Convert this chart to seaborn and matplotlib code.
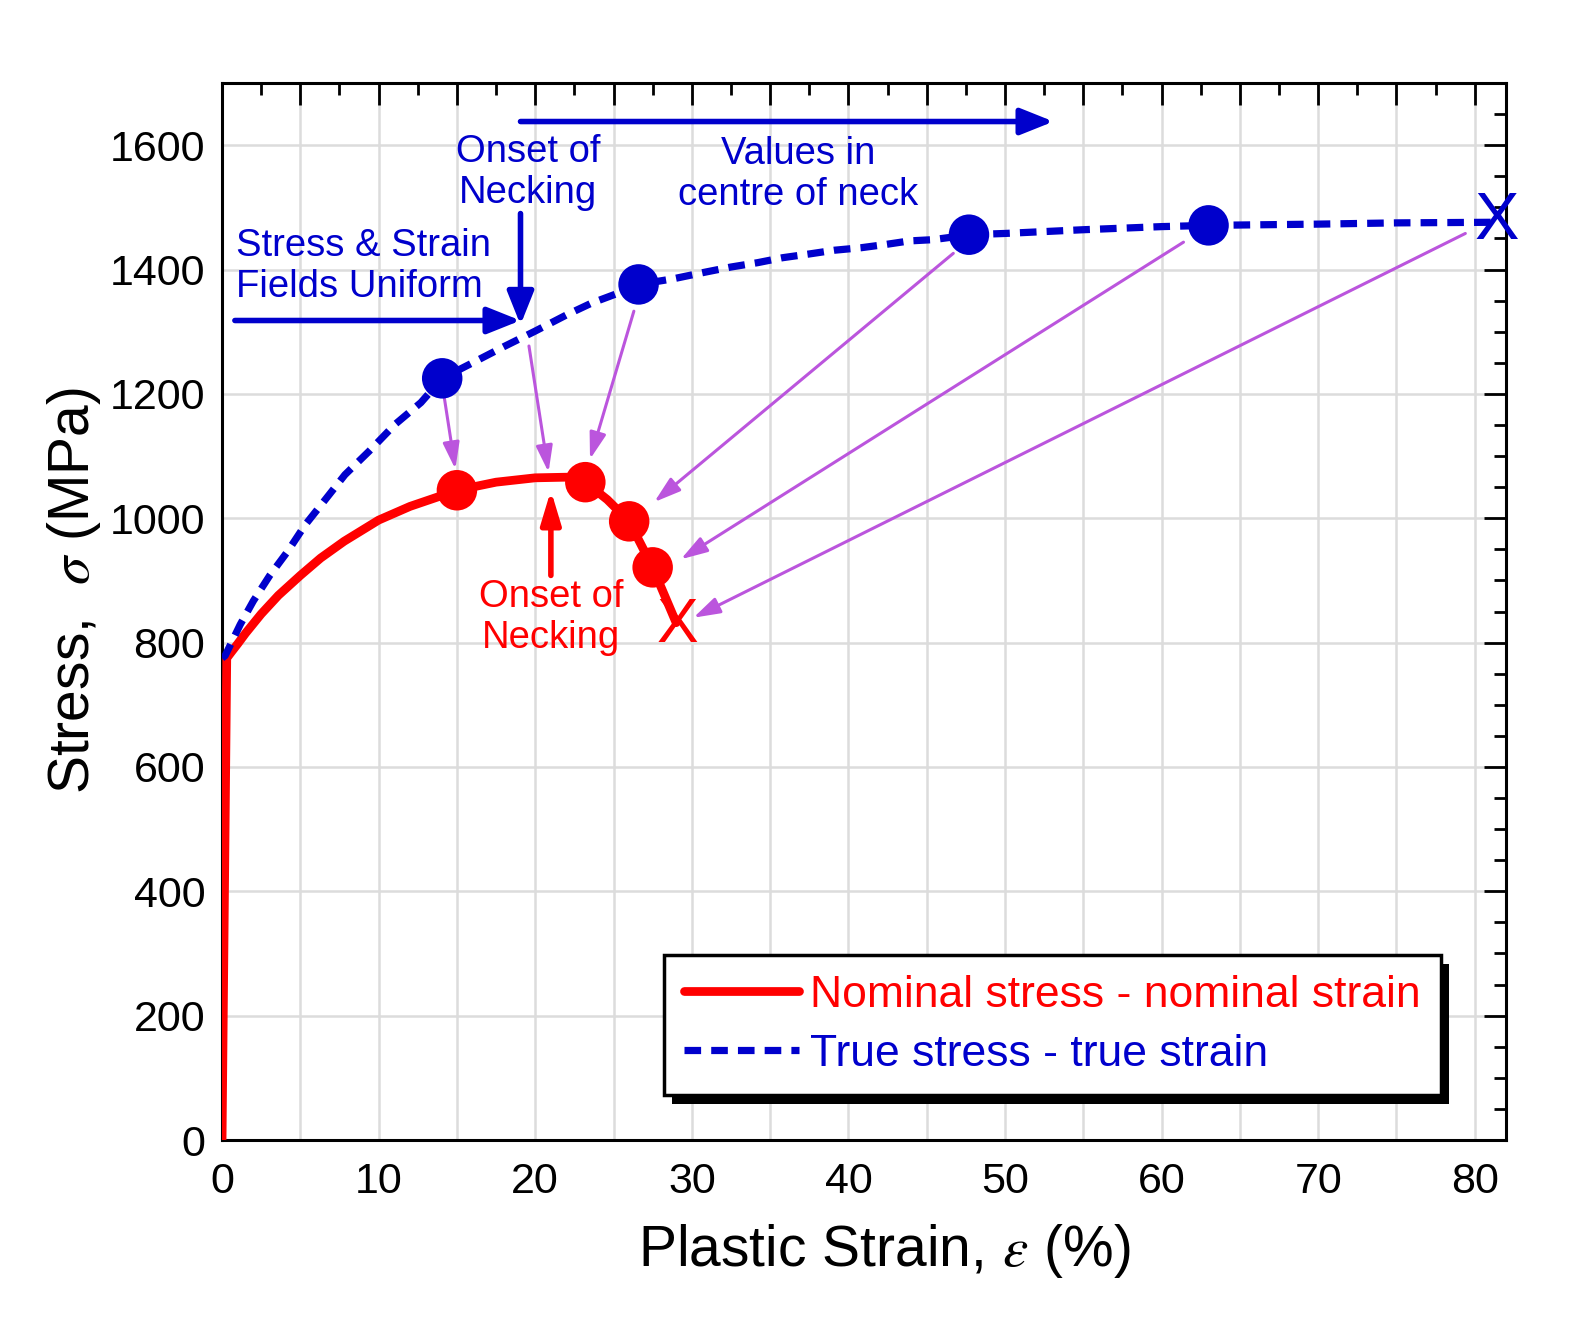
import numpy as np
import matplotlib
matplotlib.use("Agg")
import matplotlib.pyplot as plt
from matplotlib.lines import Line2D
from matplotlib.patches import Rectangle
from matplotlib.ticker import MultipleLocator, FuncFormatter
from matplotlib.transforms import IdentityTransform
import seaborn as sns

# nominal stress - nominal strain curve
nominal_strain = [0, 0.3, 0.6, 1.0, 1.5, 2.5, 3.6, 5, 6.3, 7.8, 10, 12, 14.1, 15, 17.5, 20, 22, 23.2,
                  24.6, 26.0, 27.5, 29.0]
nominal_stress = [0, 775, 785, 798, 815, 846, 876, 908, 936, 963, 997, 1019, 1037, 1045, 1058, 1065, 1066, 1058,
                  1030, 995, 921, 832]

# true stress - true strain curve
true_strain = [0, 0.2, 1.16, 2, 3.05, 4.2, 5.3, 6.5, 7.85, 9.4, 11.05, 12.7, 14.06, 16, 18, 20, 22, 23.6,
               25.3, 26.6, 28.8, 30.9, 32.5, 34.2, 35.8, 37.5, 39.1, 40.8, 42.3, 43.9, 45.4, 47.8,
               50, 55, 60, 63, 70, 75, 81.3]
true_stress = [775, 779, 829, 867, 908, 947, 989, 1027, 1070, 1108, 1151, 1186, 1225, 1250, 1276, 1301, 1327, 1346,
               1362, 1376, 1385, 1396, 1404, 1411, 1419, 1425, 1431, 1435, 1440, 1446, 1448, 1456,
               1458, 1464, 1469, 1471, 1473, 1475, 1476]

# highlighted points
nom_pts_x = [15.0, 23.2, 26.0, 27.5]
nom_pts_y = [1045, 1058, 995, 921]
true_pts_x = [14.06, 26.6, 47.7, 63.0]
true_pts_y = [1225, 1376, 1456, 1471]

# fracture points
nom_fracture = (29.1, 828)
true_fracture = (81.4, 1476)

# purple correspondence arrows: (start, end)
link_start = [(14.2, 1193), (19.6, 1277), (26.3, 1333), (46.7, 1426), (61.4, 1444), (79.4, 1458)]
link_end = [(14.9, 1079), (20.85, 1074), (23.5, 1095), (27.6, 1026), (29.3, 934), (30.1, 840)]

RED = "#ff0000"
BLUE = "#0000cc"
PURPLE = "#bb55dd"

sns.set_style("white")
plt.rcParams["font.family"] = ["Liberation Sans", "DejaVu Sans"]
plt.rcParams["mathtext.fontset"] = "stix"
for k in ["text.color", "axes.labelcolor", "xtick.color", "ytick.color"]:
    plt.rcParams[k] = "black"

fig = plt.figure(figsize=(15.86, 13.34), dpi=100)
ax = fig.add_axes([0.14, 0.1454, 0.8096, 0.7924])

sns.lineplot(x=nominal_strain, y=nominal_stress, ax=ax, color=RED, lw=6.3,
             sort=False, estimator=None, zorder=3)
sns.lineplot(x=true_strain, y=true_stress, ax=ax, color=BLUE, lw=5.2,
             ls=(0, (2.3, 1.4)), sort=False, estimator=None, zorder=3)
sns.scatterplot(x=nom_pts_x, y=nom_pts_y, ax=ax, color=RED, s=850,
                edgecolor="none", zorder=4)
sns.scatterplot(x=true_pts_x, y=true_pts_y, ax=ax, color=BLUE, s=850,
                edgecolor="none", zorder=4)

ax.text(*nom_fracture, "X", color=RED, fontsize=45, ha="center", va="center", zorder=5)
ax.text(*true_fracture, "X", color=BLUE, fontsize=48, ha="center", va="center", zorder=5)

for s, e in zip(link_start, link_end):
    ax.annotate("", xy=e, xytext=s,
                arrowprops=dict(arrowstyle="-|>,head_length=1.6,head_width=0.5",
                                color=PURPLE, lw=2.2, shrinkA=0, shrinkB=0))

blue_arrow = dict(arrowstyle="-|>,head_length=2.0,head_width=0.8", color=BLUE,
                  lw=4, shrinkA=0, shrinkB=0)
ax.annotate("", xy=(19.06, 1318), xytext=(0.82, 1318), arrowprops=blue_arrow)
ax.annotate("", xy=(19.06, 1311), xytext=(19.06, 1490), arrowprops=blue_arrow)
ax.annotate("", xy=(53.1, 1638), xytext=(19.06, 1638), arrowprops=blue_arrow)
ax.annotate("", xy=(21.0, 1045), xytext=(21.0, 908),
            arrowprops=dict(arrowstyle="-|>,head_length=2.0,head_width=0.6", color=RED,
                            lw=4, shrinkA=0, shrinkB=0))

note = dict(fontsize=27.5, va="center", linespacing=1.18)
ax.text(19.55, 1556, "Onset of\nNecking", color=BLUE, ha="center", **note)
ax.text(36.8, 1553, "Values in\ncentre of neck", color=BLUE, ha="center", **note)
ax.text(0.9, 1405, "Stress & Strain\nFields Uniform", color=BLUE, ha="left", **note)
ax.text(21.0, 841, "Onset of\nNecking", color=RED, ha="center", **note)

ax.set_xlim(0, 82)
ax.set_ylim(0, 1700)
ax.xaxis.set_major_locator(MultipleLocator(5))
ax.xaxis.set_minor_locator(MultipleLocator(2.5))
ax.xaxis.set_major_formatter(FuncFormatter(lambda v, p: f"{v:.0f}" if round(v) % 10 == 0 else ""))
ax.yaxis.set_major_locator(MultipleLocator(200))
ax.yaxis.set_minor_locator(MultipleLocator(50))
ax.tick_params(which="both", direction="in", top=True, right=True, labelsize=31, width=2)
ax.tick_params(which="major", length=16, pad=12)
ax.tick_params(axis="x", which="major", pad=16)
ax.tick_params(which="minor", length=8.5)
ax.grid(True, which="major", color="#dcdcdc", lw=1.8, zorder=0)
ax.set_axisbelow(True)
for sp in ax.spines.values():
    sp.set_linewidth(2.2)
    sp.set_color("black")

ax.set_xlabel(r"Plastic Strain, $\varepsilon$ (%)", fontsize=41)
ax.set_ylabel(r"Stress,  $\sigma$ (MPa)", fontsize=41)
ax.xaxis.set_label_coords(0.5156, -0.078)
ax.yaxis.set_label_coords(-0.093, 0.52)

handles = [Line2D([], [], color=RED, lw=6.3),
           Line2D([], [], color=BLUE, lw=5.2, ls=(0, (2.3, 1.4)))]
leg = ax.legend(handles, ["Nominal stress - nominal strain", "True stress - true strain"],
                loc="upper left", bbox_to_anchor=(0.344, 0.175), borderaxespad=0, fontsize=32,
                labelcolor="linecolor", handlelength=2.6, handletextpad=0.25,
                frameon=True, fancybox=False, framealpha=1, edgecolor="black",
                borderpad=0.45, labelspacing=0.4)
leg.get_frame().set_linewidth(2.5)
leg.set_zorder(6)

fig.canvas.draw()
bb = leg.get_window_extent()
shadow = Rectangle((bb.x0 + 8, bb.y0 - 9), bb.width, bb.height, facecolor="black",
                   edgecolor="none", transform=IdentityTransform(), zorder=5.9)
ax.add_patch(shadow)

fig.savefig("out.png", dpi=100)
plt.close(fig)
